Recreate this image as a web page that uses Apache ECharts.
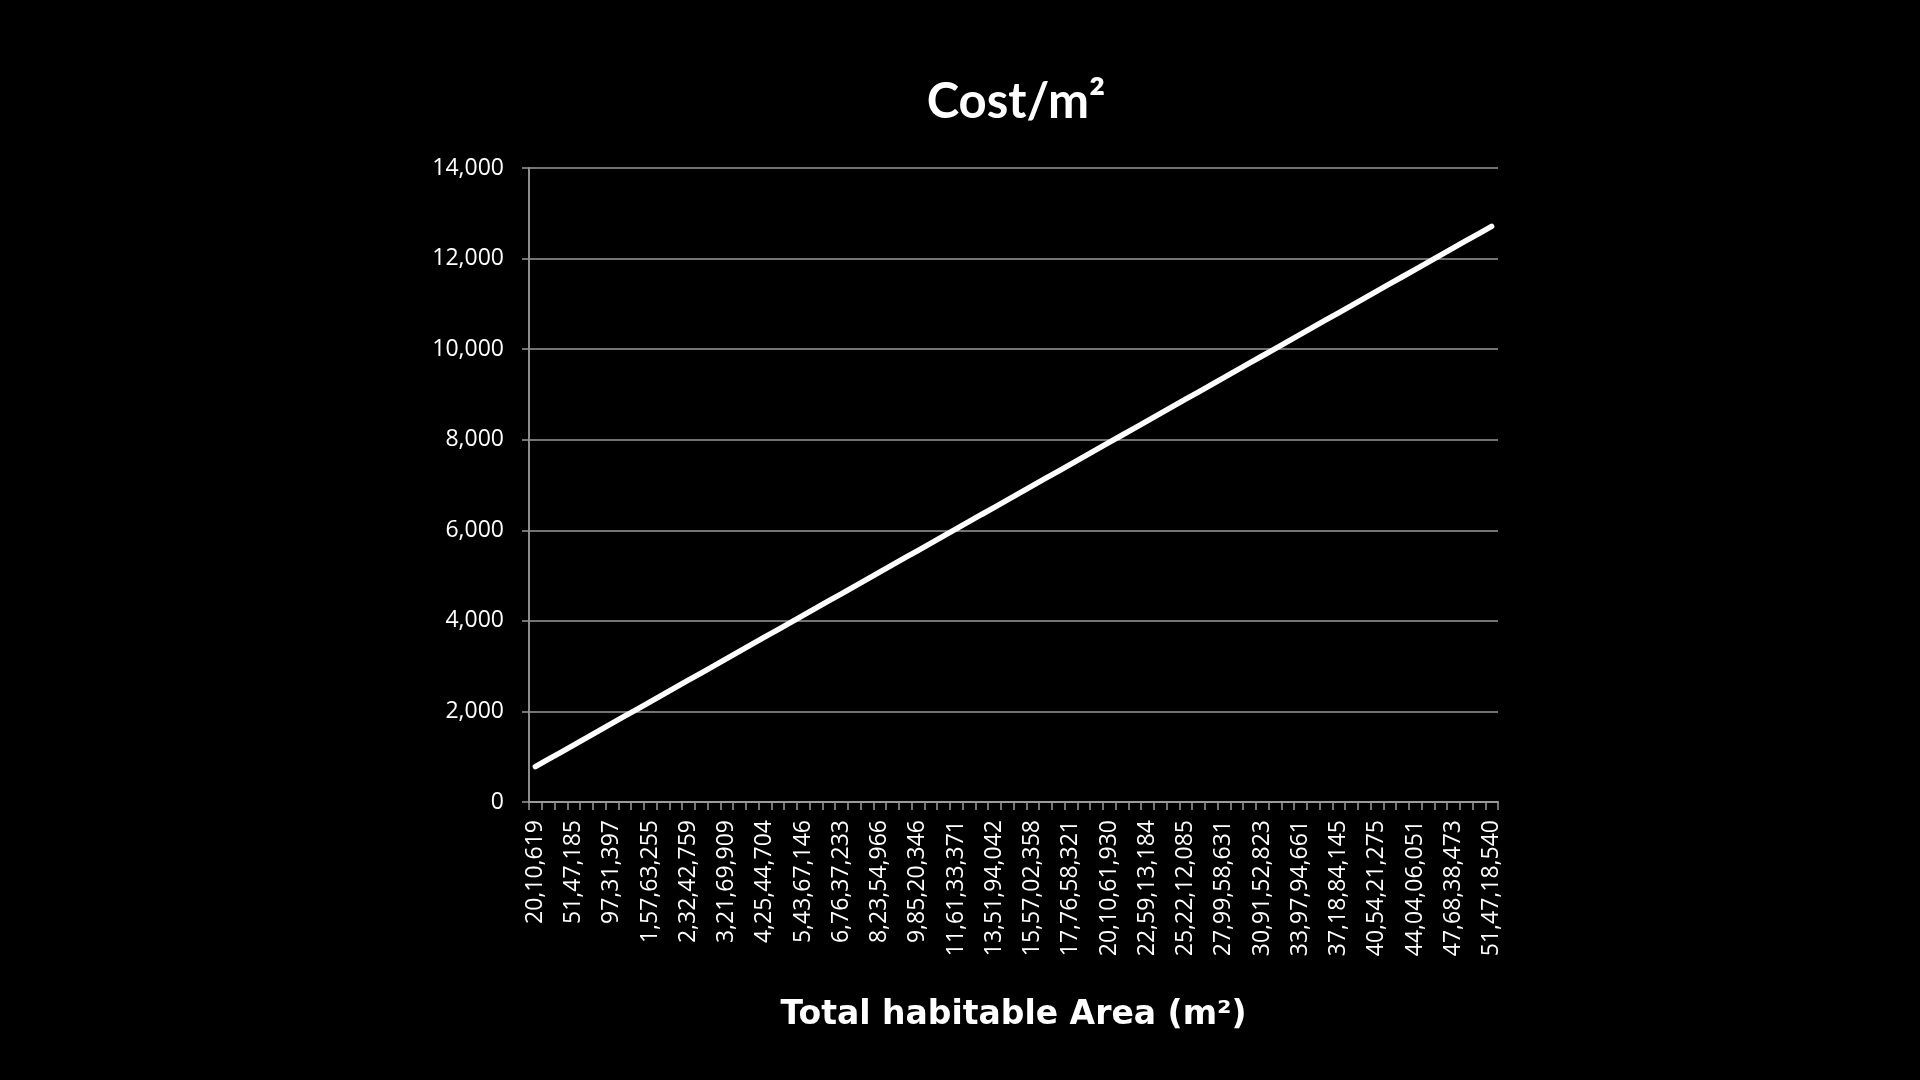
<!DOCTYPE html>
<html>
<head>
<meta charset="utf-8">
<script src="https://cdn.jsdelivr.net/npm/echarts@6/dist/echarts.min.js"></script>
<style>
html,body{margin:0;padding:0;background:#000;}
#chart{width:1920px;height:1080px;}
</style>
</head>
<body>
<div id="chart"></div>
<script>
// Readable x-axis tick labels (every third category is labelled)
const xTickLabels = [
  "20,10,619","51,47,185","97,31,397","1,57,63,255","2,32,42,759","3,21,69,909",
  "4,25,44,704","5,43,67,146","6,76,37,233","8,23,54,966","9,85,20,346","11,61,33,371",
  "13,51,94,042","15,57,02,358","17,76,58,321","20,10,61,930","22,59,13,184","25,22,12,085",
  "27,99,58,631","30,91,52,823","33,97,94,661","37,18,84,145","40,54,21,275","44,04,06,051",
  "47,68,38,473","51,47,18,540"
];
const categoryCount = 76;

// Cost per m² (one value per category)
const costValues = [
  780, 939, 1098, 1257, 1416, 1576, 1735, 1894, 2053, 2212,
  2371, 2530, 2689, 2848, 3007, 3167, 3326, 3485, 3644, 3803,
  3962, 4121, 4280, 4439, 4598, 4758, 4917, 5076, 5235, 5394,
  5553, 5712, 5871, 6030, 6189, 6349, 6508, 6667, 6826, 6985,
  7144, 7303, 7462, 7621, 7780, 7940, 8099, 8258, 8417, 8576,
  8735, 8894, 9053, 9212, 9371, 9531, 9690, 9849, 10008, 10167,
  10326, 10485, 10644, 10803, 10962, 11122, 11281, 11440, 11599, 11758,
  11917, 12076, 12235, 12394, 12553, 12713
];

const yTicks = [0, 2000, 4000, 6000, 8000, 10000, 12000, 14000];

// categories: labelled ones at every third slot, unreadable ones blank
const categories = [];
for (let i = 0; i < categoryCount; i++) {
  categories.push(i % 3 === 0 ? xTickLabels[i / 3] : '');
}

const chart = echarts.init(document.getElementById('chart'));
chart.setOption({
  backgroundColor: '#000',
  animation: false,
  title: {
    text: 'Cost/m²',
    left: 1011,
    textAlign: 'center',
    top: 73,
    textStyle: { color: '#fff', fontFamily: 'Lato', fontWeight: 'bold', fontSize: 49 }
  },
  grid: { left: 529, right: 422, top: 168, bottom: 278, containLabel: false },
  xAxis: {
    type: 'category',
    data: categories,
    boundaryGap: true,
    name: 'Total habitable Area (m²)',
    nameLocation: 'middle',
    nameGap: 197,
    nameTextStyle: { color: '#fff', fontFamily: 'DejaVu Sans', fontWeight: 'bold', fontSize: 33 },
    axisLine: { show: true, lineStyle: { color: '#9a9a9a', width: 2 } },
    axisTick: { show: true, interval: 0, length: 8, lineStyle: { color: '#9a9a9a', width: 1.5 } },
    axisLabel: {
      interval: 2,
      rotate: 90,
      margin: 18,
      color: '#fff',
      fontFamily: 'Open Sans',
      fontSize: 23
    },
    splitLine: { show: false }
  },
  yAxis: {
    type: 'value',
    min: 0,
    max: 14000,
    interval: 2000,
    axisLine: { show: true, lineStyle: { color: '#8c8c8c', width: 2 } },
    axisTick: { show: true, length: 7, lineStyle: { color: '#9a9a9a', width: 1.5 } },
    axisLabel: {
      margin: 25,
      color: '#fff',
      fontFamily: 'Open Sans',
      fontSize: 23,
      formatter: function (v) { return yTicks.indexOf(v) >= 0 ? v.toLocaleString('en-US') : ''; }
    },
    splitLine: { show: true, lineStyle: { color: '#9a9a9a', width: 1.5 } }
  },
  series: [{
    type: 'line',
    data: costValues,
    showSymbol: false,
    lineStyle: { color: '#fff', width: 5.5, cap: 'round' },
    z: 5
  }]
});
</script>
</body>
</html>
